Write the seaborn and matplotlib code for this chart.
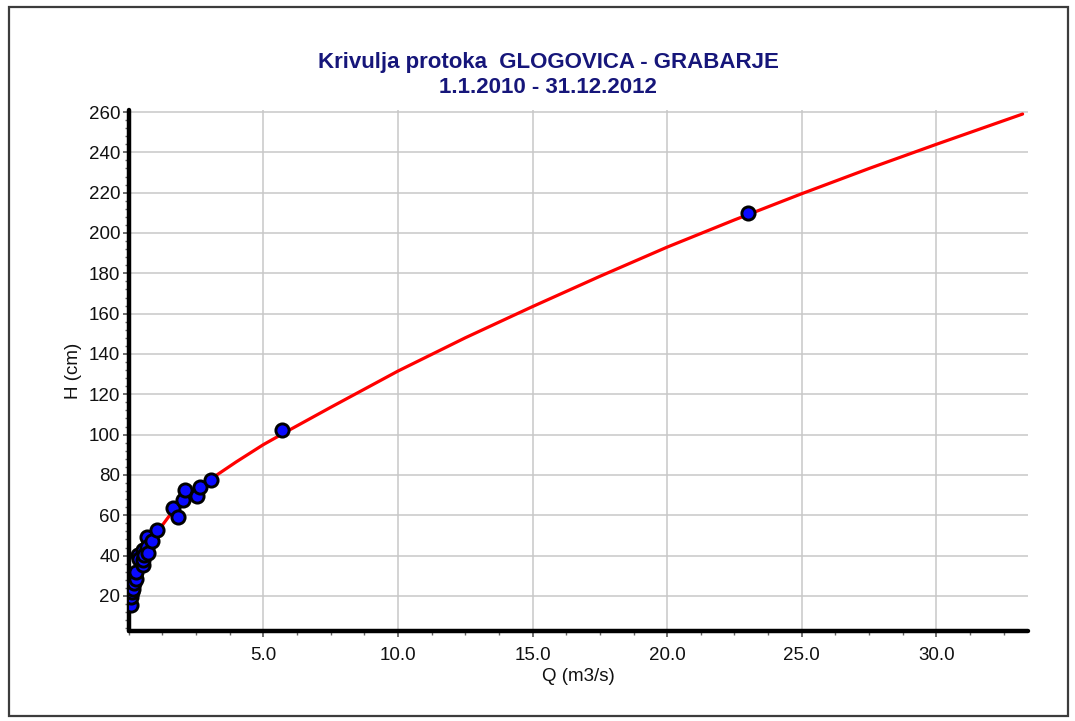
import matplotlib
matplotlib.use("Agg")
import matplotlib.pyplot as plt
from matplotlib.ticker import MultipleLocator, FixedLocator, FormatStrFormatter
from matplotlib.patches import Rectangle
import pandas as pd
import seaborn as sns

# Gauging measurements (discharge Q in m3/s, stage H in cm)
meas_q = [0.08, 0.10, 0.14, 0.17, 0.20, 0.22, 0.27, 0.28, 0.36, 0.40, 0.52,
          0.55, 0.55, 0.58, 0.67, 0.70, 0.72, 0.86, 1.07, 1.66, 1.85, 2.03,
          2.09, 2.53, 2.65, 3.07, 5.69, 23.0]
meas_h = [15.3, 19.5, 22.0, 23.6, 26.5, 30.5, 28.6, 31.8, 40.1, 38.5, 42.6,
          35.1, 37.6, 40.5, 49.2, 44.2, 41.5, 47.2, 52.8, 63.5, 59.2, 67.6,
          72.6, 69.4, 73.9, 77.6, 102.5, 209.8]

# Rating curve H(Q)
curve_q = [0.03, 0.1, 0.25, 0.5, 0.75, 1.0, 1.5, 2.0, 2.5, 3.0, 4.0, 5.0,
           6.0, 7.5, 10.0, 12.5, 15.0, 17.5, 20.0, 22.5, 25.0, 27.5, 30.0, 33.2]
curve_h = [14, 20, 28, 37, 44, 50.5, 59.5, 67, 72.5, 77.5, 86.5, 95,
           102.5, 113.5, 131.5, 148, 163.5, 178.5, 193, 206.5, 219.5, 232, 244, 259]

x_major = [5, 10, 15, 20, 25, 30]
y_major = [20, 40, 60, 80, 100, 120, 140, 160, 180, 200, 220, 240, 260]

title_line1 = "Krivulja protoka  GLOGOVICA - GRABARJE"
title_line2 = "1.1.2010 - 31.12.2012"

sns.set_theme(style="white")
plt.rcParams["font.family"] = ["Liberation Sans", "DejaVu Sans"]

W, H = 1075, 721
fig = plt.figure(figsize=(W / 100, H / 100), dpi=100)
fig.patch.set_facecolor("white")

# outer frame of the figure
fig.add_artist(Rectangle((9 / W, 1 - 716 / H), (1068 - 9) / W, (716 - 7) / H,
                         transform=fig.transFigure, fill=False,
                         edgecolor="#3c3c3c", linewidth=1.6))

ax = fig.add_axes([128.6 / W, 1 - 631 / H, (1028 - 128.6) / W, (631 - 110) / H])

curve = pd.DataFrame({"Q": curve_q, "H": curve_h})
meas = pd.DataFrame({"Q": meas_q, "H": meas_h})

sns.lineplot(data=curve, x="Q", y="H", ax=ax, color="#ff0000",
             linewidth=2.3, estimator=None, sort=True, zorder=3)
sns.scatterplot(data=meas, x="Q", y="H", ax=ax, color="#0a0aff",
                edgecolor="black", linewidth=2.1, s=90, zorder=4)

ax.set_xlim(0, 33.4)
ax.set_ylim(2.6, 261)

ax.xaxis.set_major_locator(FixedLocator(x_major))
ax.xaxis.set_major_formatter(FormatStrFormatter("%.1f"))
ax.xaxis.set_minor_locator(MultipleLocator(1.25))
ax.yaxis.set_major_locator(FixedLocator(y_major))
ax.yaxis.set_minor_locator(MultipleLocator(4))

ax.grid(True, which="major", color="#c8c8c8", linewidth=1.1)
ax.set_axisbelow(True)
for gl in ax.yaxis.get_gridlines():
    if abs(gl.get_ydata()[0] - 260) < 1e-6:
        gl.set_visible(False)

for side in ("top", "right"):
    ax.spines[side].set_visible(False)
for side in ("left", "bottom"):
    ax.spines[side].set_color("black")
    ax.spines[side].set_linewidth(3.2)
    ax.spines[side].set_capstyle("round")

ax.tick_params(axis="both", which="major", direction="out", length=4.5,
               width=1.2, color="#555555", labelsize=13.5, labelcolor="#111111")
ax.tick_params(axis="both", which="minor", direction="out", length=3,
               width=1.0, color="#666666")
ax.tick_params(axis="x", which="major", pad=7)
ax.tick_params(axis="y", which="major", pad=1.5)
ax.tick_params(axis="both", which="both", bottom=True, left=True)

ax.set_xlabel("Q (m3/s)", fontsize=13.5, color="#111111", labelpad=3)
ax.set_ylabel("H (cm)", fontsize=13.5, color="#111111", labelpad=5)

fig.text(548 / W, 1 - 68 / H, title_line1, ha="center", va="baseline",
         fontsize=16, fontweight="bold", color="#16167a")
fig.text(548 / W, 1 - 93 / H, title_line2, ha="center", va="baseline",
         fontsize=16, fontweight="bold", color="#16167a")

fig.savefig("out.png", dpi=100, facecolor="white")
